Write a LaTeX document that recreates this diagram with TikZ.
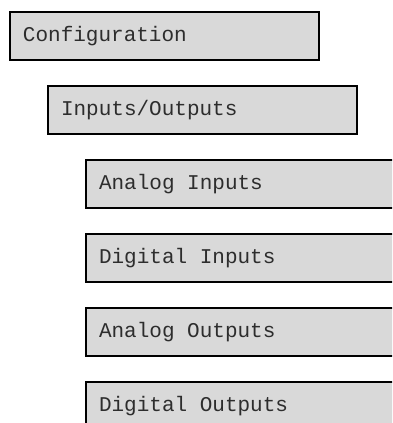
\documentclass[tikz,border=0pt]{standalone}
\usepackage{fontspec}
\setmonofont{Liberation Mono}
\usepackage{tikz}
\usetikzlibrary{positioning}

\definecolor{menugray}{RGB}{217,217,217}
\definecolor{menutext}{RGB}{45,45,45}
\newcommand{\menutext}[1]{\makebox[283pt][l]{\obeyspaces#1}}

\begin{document}
\begin{tikzpicture}[x=1pt,y=1pt,
	menu/.style={draw=black,line width=2pt,fill=menugray,text=menutext,
		minimum height=48pt,inner xsep=13pt,inner ysep=0pt,
		font=\fontsize{21}{24}\selectfont\ttfamily}]
	\clip (0,0) rectangle (392,-423);
	\node[menu] (cfg) [anchor=north west] at (9,-11) {\menutext{Configuration}};
	\node[menu] (io)  [below right=24pt and 38pt of cfg.south west] {\menutext{Inputs/Outputs}};
	\node[menu] (ai)  [below right=24pt and 38pt of io.south west] {\menutext{Analog~Inputs}};
	\node[menu] (di)  [below right=24pt and 0pt of ai.south west] {\menutext{Digital~Inputs}};
	\node[menu] (ao)  [below right=24pt and 0pt of di.south west] {\menutext{Analog~Outputs}};
	\node[menu] (do)  [below right=24pt and 0pt of ao.south west] {\menutext{Digital~Outputs}};
\end{tikzpicture}
\end{document}
